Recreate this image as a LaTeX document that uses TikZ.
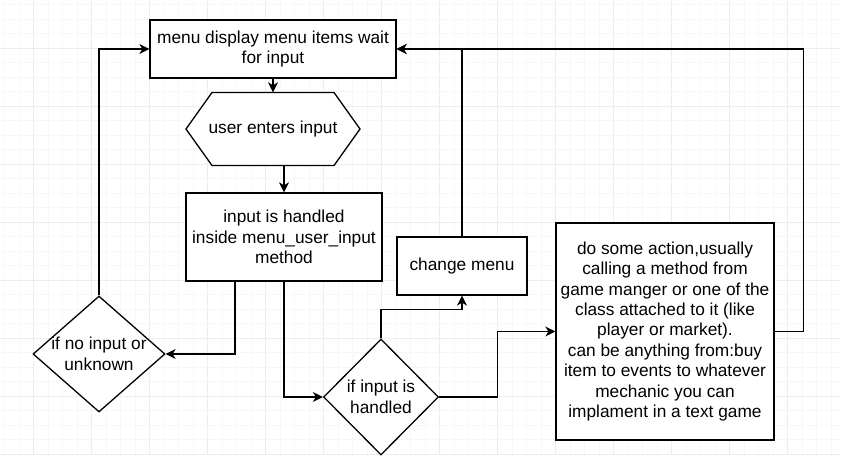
\documentclass[tikz,border=0pt]{standalone}
\usepackage{fontspec}
\setmainfont{Liberation Sans}
\usetikzlibrary{arrows.meta,shapes.geometric}

\begin{document}
\begin{tikzpicture}[
  x=1pt, y=-1pt,
  font=\fontsize{17.3}{20.4}\selectfont,
  box/.style={rectangle, draw, fill=white, line width=1.3pt, inner sep=0pt, align=center},
  cond/.style={diamond, draw, fill=white, line width=1.3pt, inner sep=0pt},
  arr/.style={-{Stealth[length=10pt, width=10pt, inset=3pt]}, line width=1.3pt},
  gridminor/.style={draw=gray!6, line width=0.8pt},
  gridmajor/.style={draw=gray!14, line width=0.8pt}
]
  \useasboundingbox (0,0) rectangle (867,455);
  \fill[white] (0,0) rectangle (867,455);
  \foreach \i in {0,...,57} \draw[gridminor] ({4.5+14.5*\i},0) -- ({4.5+14.5*\i},455);
  \foreach \j in {0,...,31} \draw[gridminor] (0,{4.5+14.5*\j}) -- (841,{4.5+14.5*\j});
  \foreach \i in {0,...,13} \draw[gridmajor] ({33.5+58*\i},0) -- ({33.5+58*\i},455);
  \foreach \j in {0,...,7} \draw[gridmajor] (0,{48.5+58*\j}) -- (841,{48.5+58*\j});

  \node[box, minimum width=246, minimum height=58] (menu) at (273,49) {menu display menu items wait\\for input};
  \coordinate (hexc) at (273,129);
  \filldraw[line width=1.3pt, fill=white] ([xshift=-87pt]hexc) -- ++(26,-36.5) -- ++(122,0) -- ++(26,36.5)
    -- ++(-26,36.5) -- ++(-122,0) -- cycle;
  \node[minimum width=174, minimum height=73, inner sep=0pt] (hex) at (hexc) {user enters input};
  \node[box, minimum width=196, minimum height=88] (input) at (284,237) {input is handled\\inside menu\_user\_input\\method};
  \node[box, minimum width=130, minimum height=58] (change) at (462,266) {change menu};
  \node[box, minimum width=218, minimum height=217] (action) at (665,331.5) {do some action,usually\\calling a method from\\game manger or one of the\\class attached to it (like\\player or market).\\can be anything from:buy\\item to events to whatever\\mechanic you can\\implament in a text game};
  \node[cond, minimum width=132, minimum height=116, label={[align=center]center:if no input or\\unknown}] (nomatch) at (99,354) {};
  \node[cond, minimum width=115, minimum height=116, label={[align=center]center:if input is\\handled}] (handled) at (381,397) {};

  \draw[arr] (menu) -- (hex);
  \draw[arr] (hex.south -| input) -- (input.north);
  \draw[arr] ([xshift=-49pt]input.south) |- (nomatch.east);
  \draw[arr] (input.south) |- (handled.west);
  \draw[arr] (nomatch.north) |- (menu.west);
  \draw[arr] (handled.north) -- ++(0,-29) -| (change.south);
  \draw[arr] (handled.east) -- ++(58,0) |- (action.west);
  \draw[arr] (change.north) |- (menu.east);
  \draw[arr] (action.east) -- ++(29,0) |- (menu.east);
\end{tikzpicture}
\end{document}
